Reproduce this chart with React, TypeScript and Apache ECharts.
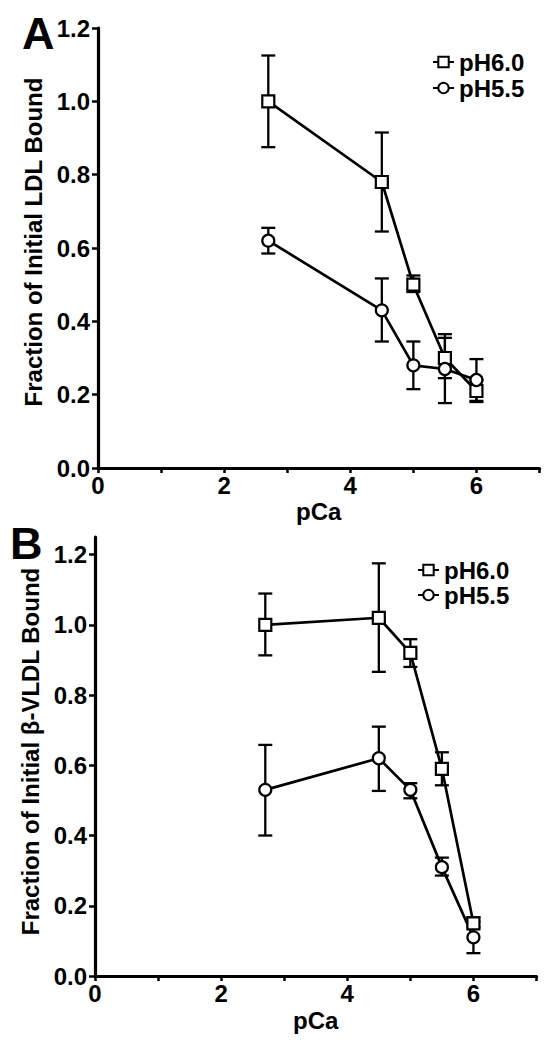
import React, { useEffect, useRef } from "react";
import * as echarts from "echarts";

// ---- data ----
const pCa = [2.7, 4.5, 5.0, 5.5, 6.0];
const yTickValues = [0, 0.2, 0.4, 0.6, 0.8, 1.0, 1.2];
const xTickValues = [0, 1, 2, 3, 4, 5, 6, 7];
const seriesNames = ["pH6.0", "pH5.5"];

// Panel A: LDL
const ldlPH60 = [1.0, 0.78, 0.5, 0.3, 0.21];
const ldlPH60Lo = [0.875, 0.645, 0.48, 0.245, 0.18];
const ldlPH60Hi = [1.125, 0.915, 0.525, 0.355, 0.24];
const ldlPH55 = [0.62, 0.43, 0.28, 0.27, 0.24];
const ldlPH55Lo = [0.585, 0.345, 0.215, 0.177, 0.183];
const ldlPH55Hi = [0.655, 0.517, 0.345, 0.365, 0.297];

// Panel B: beta-VLDL
const vldlPH60 = [1.0, 1.02, 0.92, 0.59, 0.15];
const vldlPH60Lo = [0.913, 0.866, 0.88, 0.543, 0.139];
const vldlPH60Hi = [1.089, 1.175, 0.959, 0.637, 0.167];
const vldlPH55 = [0.53, 0.62, 0.53, 0.31, 0.11];
const vldlPH55Lo = [0.4, 0.527, 0.506, 0.286, 0.065];
const vldlPH55Hi = [0.658, 0.71, 0.549, 0.337, 0.155];

const FONT = "'Liberation Sans', Arial, Helvetica, sans-serif";

const pts = (ys: number[]) => pCa.map((x, i) => [x, ys[i]]);
const errs = (lo: number[], hi: number[]) => pCa.map((x, i) => [x, lo[i], hi[i]]);

const errRender = (params: any, api: any) => {
  const x = api.value(0);
  const pLo = api.coord([x, api.value(1)]);
  const pHi = api.coord([x, api.value(2)]);
  const hw = 7;
  const style = { stroke: "#000", lineWidth: 2.3 };
  return {
    type: "group",
    children: [
      { type: "line", shape: { x1: pLo[0], y1: pLo[1], x2: pHi[0], y2: pHi[1] }, style },
      { type: "line", shape: { x1: pLo[0] - hw, y1: pLo[1], x2: pLo[0] + hw, y2: pLo[1] }, style },
      { type: "line", shape: { x1: pHi[0] - hw, y1: pHi[1], x2: pHi[0] + hw, y2: pHi[1] }, style },
    ],
  };
};

const lineSeries = (name: string, data: number[][], idx: number, symbol: string, size: number) => ({
  type: "line",
  name,
  xAxisIndex: idx,
  yAxisIndex: idx,
  data,
  symbol,
  symbolSize: size,
  showAllSymbol: true,
  z: 5,
  lineStyle: { color: "#000", width: 2.7 },
  itemStyle: { color: "#fff", borderColor: "#000", borderWidth: 2.2 },
  emphasis: { disabled: true },
});

const errSeries = (name: string, data: number[][], idx: number) => ({
  type: "custom",
  name,
  xAxisIndex: idx,
  yAxisIndex: idx,
  data,
  encode: { x: 0, y: [1, 2] },
  renderItem: errRender,
  z: 3,
  silent: true,
});

const xAxis = (idx: number, gap: number) => ({
  type: "value",
  gridIndex: idx,
  min: 0,
  max: 7,
  interval: 1,
  name: "pCa",
  nameLocation: "middle",
  nameGap: gap,
  nameTextStyle: { fontFamily: FONT, fontWeight: "bold", fontSize: 24, color: "#000" },
  axisLine: { show: true, onZero: false, lineStyle: { color: "#000", width: 3.2 } },
  axisTick: { show: true, length: 5, inside: false, lineStyle: { color: "#000", width: 2.5 }, customValues: xTickValues },
  axisLabel: {
    margin: 5,
    fontFamily: FONT,
    fontWeight: "bold",
    fontSize: 24,
    color: "#000",
    formatter: (v: number) => (v % 2 === 0 ? String(v) : ""),
  },
  splitLine: { show: false },
});

const yAxis = (idx: number, max: number, name: string, gap: number, pad: number) => ({
  type: "value",
  gridIndex: idx,
  min: 0,
  max,
  interval: 0.2,
  name,
  nameLocation: "middle",
  nameGap: gap,
  nameTextStyle: {
    fontFamily: FONT,
    fontWeight: "bold",
    fontSize: 24,
    color: "#000",
    padding: [0, 0, 0, pad],
  },
  axisLine: { show: true, onZero: false, lineStyle: { color: "#000", width: 3.2 } },
  axisTick: { show: true, length: 6, lineStyle: { color: "#000", width: 2.5 }, customValues: yTickValues },
  axisLabel: {
    margin: 8,
    fontFamily: FONT,
    fontWeight: "bold",
    fontSize: 24,
    color: "#000",
    customValues: yTickValues,
    formatter: (v: number) => v.toFixed(1),
  },
  splitLine: { show: false },
});

const legend = (left: number, top: number, gap: number) => ({
  orient: "vertical",
  left,
  top,
  padding: 0,
  data: seriesNames,
  itemWidth: 21,
  itemHeight: 13,
  itemGap: gap,
  selectedMode: false,
  textStyle: { fontFamily: FONT, fontWeight: "bold", fontSize: 24, color: "#000", lineHeight: 24 },
});

export default function App() {
  const ref = useRef<HTMLDivElement>(null);
  useEffect(() => {
    if (!ref.current) return;
    const chart = echarts.init(ref.current, undefined, { renderer: "svg" });
    chart.setOption({
      animation: false,
      backgroundColor: "#fff",
      grid: [
        { left: 98, top: 28, width: 441.5, height: 440 },
        { left: 95, top: 537, width: 441.5, height: 439 },
      ],
      xAxis: [xAxis(0, 31), xAxis(1, 32)],
      yAxis: [
        yAxis(0, 1.2, "Fraction of Initial LDL Bound", 46, 12),
        yAxis(1, 1.25, "Fraction of Initial \u03b2-VLDL Bound", 49, 10),
      ],
      legend: [legend(432, 50, 2), legend(417, 558, 1)],
      graphic: [
        { type: "text", left: 22, top: 11, style: { text: "A", font: `bold 45px ${FONT}`, fill: "#000" } },
        { type: "text", left: 10, top: 521, style: { text: "B", font: `bold 45px ${FONT}`, fill: "#000" } },
      ],
      series: [
        errSeries("errA60", errs(ldlPH60Lo, ldlPH60Hi), 0),
        errSeries("errA55", errs(ldlPH55Lo, ldlPH55Hi), 0),
        lineSeries("pH6.0", pts(ldlPH60), 0, "rect", 12),
        lineSeries("pH5.5", pts(ldlPH55), 0, "circle", 12),
        errSeries("errB60", errs(vldlPH60Lo, vldlPH60Hi), 1),
        errSeries("errB55", errs(vldlPH55Lo, vldlPH55Hi), 1),
        lineSeries("pH6.0", pts(vldlPH60), 1, "rect", 12),
        lineSeries("pH5.5", pts(vldlPH55), 1, "circle", 12),
      ],
    });
    return () => chart.dispose();
  }, []);
  return (
    <div
      ref={ref}
      style={{ position: "absolute", left: 0, top: 0, width: 548, height: 1040 }}
    />
  );
}
